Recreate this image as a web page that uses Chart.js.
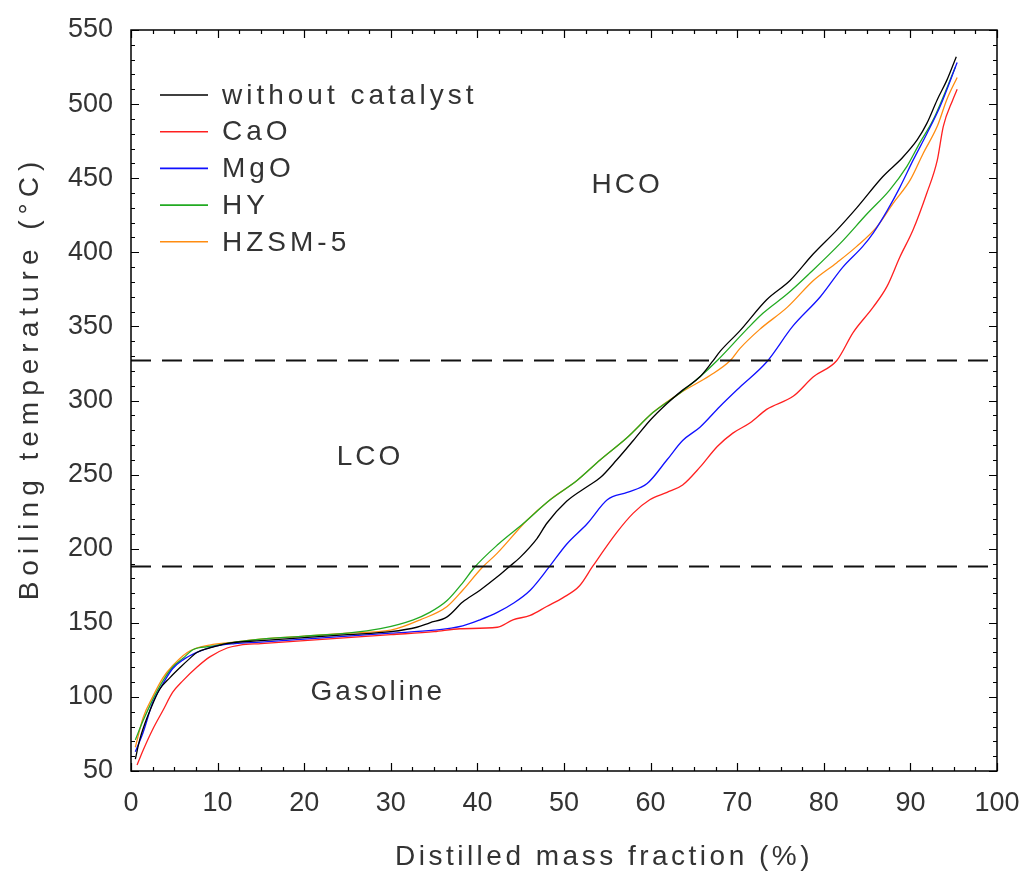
<!DOCTYPE html>
<html><head><meta charset="utf-8">
<script src="https://cdn.jsdelivr.net/npm/chart.js@4/dist/chart.umd.min.js"></script>
<style>html,body{margin:0;padding:0;background:#fff}</style>
</head><body>
<canvas id="c" width="1024" height="872"></canvas>
<script>
// ---- data ----
const seriesNames = ["without catalyst", "CaO", "MgO", "HY", "HZSM-5"];

const noCatX = [0.5,1.0,1.6,2.2,3.3,4.5,5.7,6.8,7.6,9.1,11,15,20,25,30,33,34.5,36.5,38.3,40.3,42.3,43.5,44.9,46.9,48,50.3,52.7,54.2,56.1,58,60,61.9,63.7,65.7,67.1,68,70.3,73.4,76.1,78.8,81.5,83.8,86.8,89.1,90.8,91.9,93.1,94.2,95.3];
const noCatY = [58,71,82,91,105,113,120,126,130,133,136,138,140,142,144,147,150,154,164,172,181,187,194,207,217,232,242,248,260,273,287,298,307,316,326,333,347,368,381,399,415,430,451,464,476,487,503,516,532];

const caoX = [0.7,1.4,2.5,3.7,4.8,6,7.6,9.1,11.1,12.6,15,20,25,30,35,38,42.3,44.1,46.1,48,49.9,51.8,53.3,56.1,58,59.9,61.9,63.7,65.7,67.7,69.5,71.5,73.4,76.5,78.8,81.5,83.4,85.7,87.3,88.8,90.3,91.9,93.1,93.8,94.9,95.4];
const caoY = [54,64,78,91,103,111,120,127,133,135,136,138,140,142,144,146,147,152,155,161,167,175,188,211,224,233,238,243,255,269,278,285,294,303,316,327,346,363,377,397,415,440,462,485,503,510];

const mgoX = [0.5,1.4,2.5,3.7,4.8,6,7.6,9.5,12,15,20,25,30,35,38.3,40.3,42.3,44.1,46.1,48.2,50.3,52.7,55,57.3,59.6,61.9,63.7,65.7,68,70.3,73.4,76.4,79.6,82.2,84.5,85.7,87.3,88.8,90.3,91.9,93.4,95.4];
const mgoY = [63,76,96,109,119,125,130,134,136,137,139,141,143,145,148,152,157,163,172,187,203,217,233,238,244,260,273,282,296,309,326,350,370,390,404,413,428,444,462,480,498,528];

const hyX = [0.5,1.4,2.5,3.7,4.8,6,7.2,9.1,12,15,20,25,28.8,32.6,34.5,36.5,38.3,39.6,42.4,45.3,48.4,51.5,54.2,57.3,60.3,63.4,65.7,67.7,71.1,73,75.8,78.4,81.9,85,87.6,89.6,91.1,92.6,95.2];
const hyY = [71,84,98,111,120,126,132,134,137,139,141,143,146,152,157,165,177,187,203,217,233,246,260,275,292,305,316,327,348,359,372,386,406,426,442,458,474,489,525];

const hzsmX = [0.5,1.4,2.5,3.7,4.8,6.5,7.6,9.1,12,15,20,25,30,33.4,36.5,38.3,40.5,42.3,45.7,48.4,51.5,54.2,57.3,60.3,63.4,66.9,69.2,70.3,72.6,75.8,78.8,81.5,83.8,86.1,88,90,91.5,93.1,94.2,95.4];
const hzsmY = [66,86,100,113,121,130,133,135,137,139,141,143,145,152,161,172,187,197,219,233,246,260,275,292,305,317,327,335,348,363,381,393,404,417,433,449,467,485,503,518];

const cutTemps = [188, 327];          // dashed boundary lines
const cutRange = [0, 100];
const regionNames = ["HCO", "LCO", "Gasoline"];
const regionX = [57.3, 27.6, 28.5];
const regionY = [445, 262, 103];
const xTickValues = [0,10,20,30,40,50,60,70,80,90,100];
const yTickValues = [50,100,150,200,250,300,350,400,450,500,550];

// ---- styles ----
const colors = ["#000000", "#ff2020", "#1010ff", "#22aa22", "#ff8c10"];
const FONT = "'Liberation Sans', Arial, sans-serif";

function pts(xs, ys){ return xs.map((x,i)=>({x:x, y:ys[i]})); }
const seriesX = [noCatX, caoX, mgoX, hyX, hzsmX];
const seriesY = [noCatY, caoY, mgoY, hyY, hzsmY];

const datasets = seriesNames.map((n,i)=>({
  label:n, data:pts(seriesX[i], seriesY[i]), borderColor:colors[i], backgroundColor:colors[i],
  borderWidth:1.3, pointRadius:0, cubicInterpolationMode:'monotone', fill:false, order:2
}));
cutTemps.forEach((t)=>{
  datasets.push({label:'cut'+t, data:cutRange.map(x=>({x:x,y:t})), borderColor:'#111', borderWidth:1.8,
    borderDash:[20,11], pointRadius:0, fill:false, order:1});
});

const decor = {
  id:'decor',
  afterDraw(chart){
    const ctx = chart.ctx, a = chart.chartArea, xs = chart.scales.x, ys = chart.scales.y;
    ctx.save();
    ctx.strokeStyle = '#000'; ctx.lineWidth = 1.5;
    ctx.strokeRect(a.left, a.top, a.right-a.left, a.bottom-a.top);
    ctx.lineWidth = 1.2;
    ctx.beginPath();
    for (let v=0; v<=100.001; v+=2.5){
      const p = Math.round(xs.getPixelForValue(v))+0.5;
      const L = (Math.abs(v%10)<0.01) ? 8 : 4;
      ctx.moveTo(p, a.bottom); ctx.lineTo(p, a.bottom-L);
      ctx.moveTo(p, a.top); ctx.lineTo(p, a.top+L);
    }
    for (let v=50; v<=550.001; v+=10){
      const p = Math.round(ys.getPixelForValue(v))+0.5;
      const L = (v%50===0) ? 8 : 4;
      ctx.moveTo(a.left, p); ctx.lineTo(a.left+L, p);
      ctx.moveTo(a.right, p); ctx.lineTo(a.right-L, p);
    }
    ctx.stroke();
    ctx.fillStyle = '#333';
    ctx.font = '28px ' + FONT;
    ctx.letterSpacing = '3px';
    ctx.textAlign = 'center'; ctx.textBaseline = 'middle';
    regionNames.forEach((n,i)=>{
      ctx.fillText(n, xs.getPixelForValue(regionX[i]), ys.getPixelForValue(regionY[i]));
    });
    ctx.textAlign = 'left';
    ctx.letterSpacing = '4px';
    seriesNames.forEach((n,i)=>{
      const y = 95 + i*36.7;
      ctx.strokeStyle = colors[i]; ctx.lineWidth = 1.6;
      ctx.beginPath(); ctx.moveTo(160, y); ctx.lineTo(208, y); ctx.stroke();
      ctx.fillStyle = '#333';
      ctx.fillText(n, 222, y+1);
    });
    ctx.fillStyle = '#333';
    ctx.font = '28px ' + FONT;
    ctx.letterSpacing = '3.5px';
    ctx.textAlign = 'center'; ctx.textBaseline = 'middle';
    ctx.fillText('Distilled mass fraction (%)', 604, 857);
    ctx.translate(30, 378);
    ctx.rotate(-Math.PI/2);
    ctx.letterSpacing = '6px';
    ctx.fillText('Boiling temperature (°C)', 0, 0);
    ctx.restore();
  }
};

new Chart(document.getElementById('c'), {
  type:'line',
  data:{datasets:datasets},
  options:{
    responsive:false, devicePixelRatio:1, animation:false,
    layout:{padding:{top:30, right:27, left:0, bottom:0}},
    plugins:{legend:{display:false}, tooltip:{enabled:false}},
    scales:{
      x:{type:'linear', min:0, max:100,
        afterBuildTicks(s){ s.ticks = xTickValues.map(v=>({value:v})); },
        afterFit(s){ s.height = 101; s.paddingLeft = 0; s.paddingRight = 0; },
        grid:{display:false, drawTicks:false}, border:{display:false},
        ticks:{font:{size:27, family:FONT}, color:'#333', padding:16, maxRotation:0, autoSkip:false}
      },
      y:{type:'linear', min:50, max:550,
        afterBuildTicks(s){ s.ticks = yTickValues.map(v=>({value:v})); },
        afterFit(s){ s.width = 131; s.paddingTop = 0; s.paddingBottom = 0; },
        grid:{display:false, drawTicks:false}, border:{display:false},
        ticks:{font:{size:27, family:FONT}, color:'#333', padding:18, autoSkip:false}
      }
    }
  },
  plugins:[decor]
});
</script>
</body></html>
